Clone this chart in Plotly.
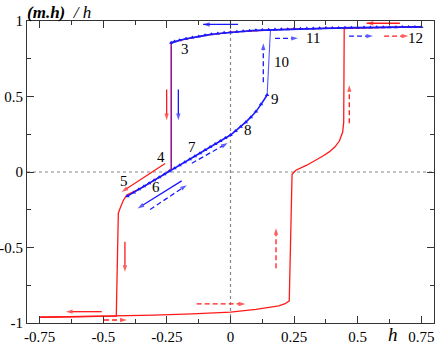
import plotly.graph_objects as go

# upper branch of the blue curve (field going down from saturation)
blue_top_h = [0.75, 0.725, 0.70, 0.675, 0.65, 0.625, 0.60, 0.575, 0.55, 0.525, 0.50,
              0.475, 0.45, 0.425, 0.40, 0.375, 0.35, 0.325, 0.30, 0.275, 0.25, 0.225,
              0.20, 0.175, 0.15, 0.125, 0.10, 0.075, 0.05, 0.025, 0.0, -0.025, -0.05,
              -0.075, -0.10, -0.125, -0.15, -0.175, -0.20, -0.22, -0.233]
blue_top_m = [0.961, 0.960, 0.960, 0.960, 0.959, 0.959, 0.958, 0.958, 0.957, 0.957, 0.956,
              0.956, 0.955, 0.954, 0.954, 0.953, 0.952, 0.951, 0.950, 0.949, 0.948, 0.946,
              0.945, 0.944, 0.942, 0.940, 0.938, 0.935, 0.932, 0.929, 0.926, 0.922, 0.918,
              0.912, 0.905, 0.898, 0.890, 0.882, 0.872, 0.864, 0.856]

# minor-loop branch of the blue curve (points 5 -> 9)
blue_diag_h = [-0.405, -0.38, -0.36, -0.34, -0.32, -0.30, -0.28, -0.26, -0.24, -0.22,
               -0.20, -0.18, -0.16, -0.14, -0.12, -0.10, -0.08, -0.06, -0.04, -0.02,
               0.0, 0.02, 0.04, 0.06, 0.08, 0.10, 0.12, 0.144]
blue_diag_m = [-0.16, -0.135, -0.115, -0.095, -0.075, -0.055, -0.035, -0.015, 0.005, 0.025,
               0.045, 0.065, 0.085, 0.105, 0.125, 0.145, 0.165, 0.185, 0.205, 0.225,
               0.245, 0.272, 0.30, 0.33, 0.363, 0.40, 0.448, 0.51]

# jumps of the blue curve
blue_jump1_h = [-0.233, -0.233]
blue_jump1_m = [0.856, 0.02]
blue_jump2_h = [0.144, 0.157]
blue_jump2_m = [0.51, 0.94]

# red major loop, descending field
red_down_h = [0.75, 0.5, 0.25, 0.0, -0.1, -0.2, -0.233, -0.233, -0.26, -0.30, -0.35,
              -0.408, -0.422, -0.434, -0.441, -0.449, -0.5, -0.6, -0.75]
red_down_m = [0.961, 0.956, 0.948, 0.926, 0.905, 0.872, 0.856, 0.02, -0.015, -0.055, -0.105,
              -0.153, -0.19, -0.24, -0.273, -0.954, -0.955, -0.957, -0.962]

# red major loop, ascending field
red_up_h = [-0.75, -0.6, -0.45, -0.3, -0.15, 0.0, 0.1, 0.15, 0.19, 0.215, 0.231, 0.242,
            0.257, 0.30, 0.336, 0.365, 0.388, 0.41, 0.428, 0.441, 0.445, 0.447, 0.5, 0.75]
red_up_m = [-0.962, -0.958, -0.954, -0.948, -0.94, -0.928, -0.91, -0.898, -0.886, -0.872,
            -0.853, -0.015, 0.012, 0.045, 0.078, 0.108, 0.133, 0.165, 0.205, 0.265, 0.33,
            0.949, 0.955, 0.961]

# direction arrows: (h0, m0, h1, m1, colour, dashed)
arrows = [
    (0.666, 0.985, 0.535, 0.985, "red", False),
    (0.03, 0.977, -0.108, 0.977, "blue", False),
    (0.175, 0.885, 0.265, 0.885, "blue", True),
    (0.466, 0.90, 0.56, 0.90, "blue", True),
    (0.604, 0.90, 0.699, 0.90, "red", True),
    (0.129, 0.594, 0.129, 0.852, "blue", True),
    (0.467, 0.323, 0.467, 0.575, "red", True),
    (-0.251, 0.547, -0.251, 0.343, "red", False),
    (-0.205, 0.547, -0.205, 0.343, "blue", False),
    (-0.257, 0.056, -0.428, -0.132, "red", False),
    (-0.192, -0.059, -0.365, -0.241, "blue", False),
    (-0.316, -0.248, -0.172, -0.087, "blue", True),
    (-0.152, 0.058, -0.011, 0.192, "blue", True),
    (-0.415, -0.462, -0.415, -0.661, "red", False),
    (0.179, -0.637, 0.179, -0.372, "red", True),
    (-0.506, -0.925, -0.647, -0.925, "red", False),
    (-0.497, -0.98, -0.408, -0.98, "red", True),
    (-0.133, -0.874, 0.058, -0.874, "red", True),
]

# point labels
label_text = ["1", "2", "3", "4", "5", "6", "7", "8", "9", "10", "11", "12"]
label_h = [0.721, 0.474, -0.179, -0.273, -0.419, -0.293, -0.151, 0.069, 0.176, 0.199, 0.323, 0.729]
label_m = [1.043, 1.043, 0.812, 0.098, -0.061, -0.101, 0.164, 0.276, 0.486, 0.726, 0.885, 0.885]

x_ticks = [-0.75, -0.5, -0.25, 0, 0.25, 0.5, 0.75]
x_tick_text = ["-0.75", "-0.5", "-0.25", "0", "0.25", "0.5", "0.75"]
y_ticks = [-1, -0.5, 0, 0.5, 1]
y_tick_text = ["-1", "-0.5", "0", "0.5", "1"]

RED = "#ff1a1a"
BLUE = "#1a1aff"
FONT = "'Liberation Serif', 'Times New Roman', Times, serif"

fig = go.Figure()

fig.add_trace(go.Scatter(x=red_down_h, y=red_down_m, mode="lines",
                         line=dict(color=RED, width=1.3)))
fig.add_trace(go.Scatter(x=red_up_h, y=red_up_m, mode="lines",
                         line=dict(color=RED, width=1.3)))

fig.add_trace(go.Scatter(x=blue_jump1_h, y=blue_jump1_m, mode="lines",
                         line=dict(color="rgba(40,0,255,0.6)", width=1.3)))
fig.add_trace(go.Scatter(x=blue_jump2_h, y=blue_jump2_m, mode="lines",
                         line=dict(color="#5555ff", width=1.1)))
for hh, mm in [(blue_top_h, blue_top_m), (blue_diag_h, blue_diag_m)]:
    fig.add_trace(go.Scatter(x=hh, y=mm, mode="lines+markers",
                             line=dict(color=BLUE, width=1.6),
                             marker=dict(symbol="triangle-up", size=4, color=BLUE,
                                         line=dict(width=0))))

for h0, m0, h1, m1, col, dashed in arrows:
    c = RED if col == "red" else BLUE
    fig.add_trace(go.Scatter(
        x=[h0, h1], y=[m0, m1], mode="lines+markers",
        line=dict(color=c, width=1.3, dash="5px,3px" if dashed else "solid"),
        marker=dict(symbol="arrow", size=[0, 7], color=c, angleref="previous",
                    line=dict(width=0)),
        cliponaxis=False,
    ))

# dotted zero lines
fig.add_shape(type="line", xref="x", yref="paper", x0=0, x1=0, y0=0, y1=1,
              line=dict(color="#888888", width=1.2, dash="dot"), layer="below")
fig.add_shape(type="line", xref="paper", yref="y", x0=0, x1=1, y0=0, y1=0,
              line=dict(color="#888888", width=1.2, dash="dot"), layer="below")

for t, hh, mm in zip(label_text, label_h, label_m):
    fig.add_annotation(x=hh, y=mm, text=t, showarrow=False,
                       font=dict(family=FONT, size=15, color="black"))

fig.add_annotation(xref="paper", yref="paper", x=0, y=1, xanchor="left", yanchor="middle",
                   yshift=9, xshift=-2, showarrow=False,
                   text="<b><i>(m.h)</i></b>&nbsp;&nbsp;<i>/ h</i>",
                   font=dict(family=FONT, size=17, color="black"))
fig.add_annotation(xref="x", yref="paper", x=0.639, y=0, yanchor="middle", yshift=-11,
                   showarrow=False, text="<i>h</i>",
                   font=dict(family=FONT, size=19, color="black"))

axis_common = dict(showgrid=False, zeroline=False, showline=True, linecolor="#333333",
                   linewidth=1, mirror="ticks", ticks="inside", ticklen=7,
                   tickcolor="#333333", automargin=False,
                   tickfont=dict(family=FONT, size=15, color="black"))

fig.update_layout(
    width=436, height=345, autosize=False,
    margin=dict(l=27, r=2, t=21, b=22),
    paper_bgcolor="white", plot_bgcolor="white",
    showlegend=False,
    font=dict(family=FONT),
    xaxis=dict(range=[-0.8, 0.8], tickmode="array", tickvals=x_ticks, ticktext=x_tick_text,
               minor=dict(tickmode="linear", tick0=0, dtick=0.125, ticks="inside",
                          ticklen=4, tickcolor="#333333"),
               **axis_common),
    yaxis=dict(range=[-1, 1], tickmode="array", tickvals=y_ticks, ticktext=y_tick_text,
               minor=dict(tickmode="linear", tick0=0, dtick=0.25, ticks="inside",
                          ticklen=4, tickcolor="#333333"),
               **axis_common),
)

fig.write_html("out.html", config={"displayModeBar": False},
               post_script="document.body.style.margin='0';")
